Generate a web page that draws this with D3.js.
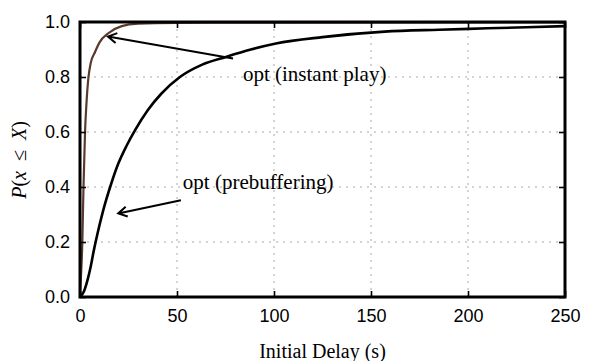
<!DOCTYPE html>
<html>
<head>
<meta charset="utf-8">
<script src="https://cdn.jsdelivr.net/npm/d3@7"></script>
<style>
  body { margin: 0; background: #fff; }
  svg { display: block; font-family: "Liberation Serif", "DejaVu Serif", serif; }
</style>
</head>
<body>
<svg id="chart" width="606" height="361"></svg>
<script>
// ============= Data =============

// CDF of initial delay, instant play (brown)
const instantDelay = [0, 0.3, 0.8, 1.2, 1.5, 1.8, 2.2, 2.6, 3.3, 4.3, 5.5, 7.7, 10, 14.6, 21.5, 30, 50, 100, 250];
const instantProb = [0, 0.05, 0.12, 0.2, 0.3, 0.4, 0.5, 0.6, 0.7, 0.795, 0.85, 0.89, 0.925, 0.959, 0.985, 0.994, 0.997, 0.998, 0.999];

// CDF of initial delay, prebuffering (black)
const prebufDelay = [0, 2, 4, 5.5, 7, 9, 12, 16, 19.8, 24, 28.4, 35, 42, 51.5, 63, 75.6, 88, 101, 125, 157, 185, 210, 250];
const prebufProb = [0, 0.02, 0.065, 0.11, 0.165, 0.23, 0.316, 0.41, 0.486, 0.55, 0.607, 0.68, 0.74, 0.8, 0.845, 0.874, 0.9, 0.922, 0.945, 0.965, 0.972, 0.977, 0.985];

const xTicks = [0, 50, 100, 150, 200, 250];
const yTicks = [0, 0.2, 0.4, 0.6, 0.8, 1.0];

// Annotations: label text, label anchor, arrow tail and arrow tip (data coords)
const annotationLabels = ["opt (instant play)", "opt (prebuffering)"];
const annotationText = [[84, 0.785], [53, 0.393]];
const arrowTail = [[78.9, 0.867], [52, 0.352]];
const arrowTip = [[14.4, 0.947], [19.7, 0.304]];

// ============= Layout =============

const WIDTH = 606;
const HEIGHT = 361;
const MARGIN = { TOP: 22, RIGHT: 41, BOTTOM: 64, LEFT: 80 };
const innerW = WIDTH - MARGIN.LEFT - MARGIN.RIGHT;
const innerH = HEIGHT - MARGIN.TOP - MARGIN.BOTTOM;
const TICK_FONT = "18px";
const TITLE_FONT = "20px";
const NOTE_FONT = "21px";
const BROWN = "#5b3a2c";
const GRID_COLOR = "#a8a8a8";

const svg = d3.select("#chart");
const g = svg.append("g").attr("transform", `translate(${MARGIN.LEFT},${MARGIN.TOP})`);

const xScale = d3.scaleLinear().domain([0, 250]).range([0, innerW]);
const yScale = d3.scaleLinear().domain([0, 1]).range([innerH, 0]);

// grid
g.selectAll(".grid-x")
  .data(xTicks.slice(1, -1))
  .enter()
  .append("line")
  .attr("x1", xScale).attr("x2", xScale)
  .attr("y1", 0).attr("y2", innerH)
  .attr("stroke", GRID_COLOR)
  .attr("stroke-width", 1)
  .attr("stroke-dasharray", "2,5");

g.selectAll(".grid-y")
  .data(yTicks.slice(1, -1))
  .enter()
  .append("line")
  .attr("y1", yScale).attr("y2", yScale)
  .attr("x1", 0).attr("x2", innerW)
  .attr("stroke", GRID_COLOR)
  .attr("stroke-width", 1)
  .attr("stroke-dasharray", "2,5");

// curves
const toPoints = (xs, ys) => xs.map((x, i) => ({ x, y: ys[i] }));
const line = d3.line()
  .x((d) => xScale(d.x))
  .y((d) => yScale(d.y))
  .curve(d3.curveMonotoneX);

g.append("path")
  .datum(toPoints(prebufDelay, prebufProb))
  .attr("d", line)
  .attr("fill", "none")
  .attr("stroke", "#000")
  .attr("stroke-width", 2.6);

g.append("path")
  .datum(toPoints(instantDelay, instantProb))
  .attr("d", line)
  .attr("fill", "none")
  .attr("stroke", BROWN)
  .attr("stroke-width", 2.2);

// axes: inward ticks on all four sides
const styleAxis = (axis) => {
  axis.select(".domain").remove();
  axis.selectAll(".tick line").attr("stroke", "#000").attr("stroke-width", 1.6);
  axis.selectAll("text").style("font-size", TICK_FONT).attr("fill", "#000");
};

const xAxis = g.append("g")
  .attr("transform", `translate(0,${innerH})`)
  .call(d3.axisBottom(xScale).tickValues(xTicks).tickSizeInner(-6).tickSizeOuter(0).tickPadding(12).tickFormat(d3.format("d")));
styleAxis(xAxis);

const yAxis = g.append("g")
  .call(d3.axisLeft(yScale).tickValues(yTicks).tickSizeInner(-6).tickSizeOuter(0).tickPadding(10).tickFormat(d3.format(".1f")));
styleAxis(yAxis);

const xTop = g.append("g")
  .call(d3.axisTop(xScale).tickValues(xTicks).tickSizeInner(-6).tickSizeOuter(0).tickFormat(""));
styleAxis(xTop);

const yRight = g.append("g")
  .attr("transform", `translate(${innerW},0)`)
  .call(d3.axisRight(yScale).tickValues(yTicks).tickSizeInner(-6).tickSizeOuter(0).tickFormat(""));
styleAxis(yRight);

// frame
g.append("rect")
  .attr("width", innerW)
  .attr("height", innerH)
  .attr("fill", "none")
  .attr("stroke", "#000")
  .attr("stroke-width", 3);

// annotations
const arrowHead = 10;
annotationLabels.forEach((label, i) => {
  const x1 = xScale(arrowTail[i][0]);
  const y1 = yScale(arrowTail[i][1]);
  const x2 = xScale(arrowTip[i][0]);
  const y2 = yScale(arrowTip[i][1]);
  const ang = Math.atan2(y2 - y1, x2 - x1);
  const spread = Math.PI / 6;
  const h1 = [x2 - arrowHead * Math.cos(ang - spread), y2 - arrowHead * Math.sin(ang - spread)];
  const h2 = [x2 - arrowHead * Math.cos(ang + spread), y2 - arrowHead * Math.sin(ang + spread)];

  g.append("path")
    .attr("d", `M${x1},${y1}L${x2},${y2}M${h1[0]},${h1[1]}L${x2},${y2}L${h2[0]},${h2[1]}`)
    .attr("fill", "none")
    .attr("stroke", "#000")
    .attr("stroke-width", 2)
    .attr("stroke-linejoin", "miter");

  g.append("text")
    .attr("x", xScale(annotationText[i][0]))
    .attr("y", yScale(annotationText[i][1]))
    .style("font-size", NOTE_FONT)
    .text(label);
});

// axis titles
g.append("text")
  .attr("x", innerW / 2)
  .attr("y", innerH + 61)
  .attr("text-anchor", "middle")
  .style("font-size", TITLE_FONT)
  .text("Initial Delay (s)");

const yTitle = g.append("text")
  .attr("transform", `translate(${26 - MARGIN.LEFT},${160 - MARGIN.TOP}) rotate(-90)`)
  .attr("text-anchor", "middle")
  .style("font-size", TITLE_FONT);
yTitle.append("tspan").attr("font-style", "italic").text("P");
yTitle.append("tspan").text("(");
yTitle.append("tspan").attr("font-style", "italic").text("x");
yTitle.append("tspan").text("\u2002≤\u2002");
yTitle.append("tspan").attr("font-style", "italic").text("X");
yTitle.append("tspan").text(")");
</script>
</body>
</html>
